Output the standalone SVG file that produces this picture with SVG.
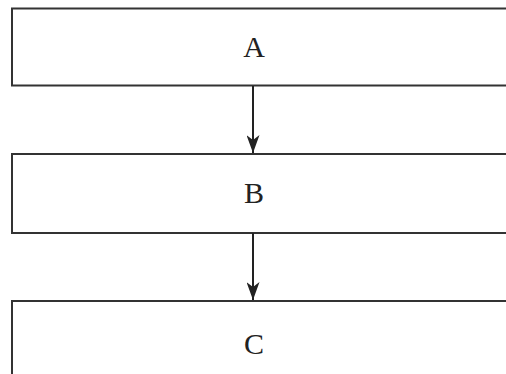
<svg xmlns="http://www.w3.org/2000/svg" width="506" height="374" viewBox="0 0 506 374">
<style>
.box{fill:#fff;stroke:#333;stroke-width:2}
.lbl{font-family:"Liberation Serif",serif;font-size:30px;fill:#222;text-anchor:middle;dominant-baseline:central}
.conn{stroke:#222;stroke-width:2;fill:none}
</style>
<defs>
<marker id="ah" markerUnits="userSpaceOnUse" markerWidth="18" markerHeight="13" refX="18" refY="6.5" orient="auto" viewBox="0 0 18 13">
<path d="M0,0 L18,6.5 L0,13 L5,6.5 Z" fill="#222"/>
</marker>
</defs>
<rect width="506" height="374" fill="#fff"/>
<g id="nodeA"><rect class="box" x="12" y="8.5" width="510" height="77"/><text class="lbl" x="254" y="46">A</text></g>
<g id="nodeB"><rect class="box" x="12" y="154" width="510" height="79"/><text class="lbl" x="254" y="192">B</text></g>
<g id="nodeC"><rect class="box" x="12" y="301" width="510" height="90"/><text class="lbl" x="254" y="343">C</text></g>
<g id="connectors">
<line class="conn" x1="253" y1="86" x2="253" y2="153" marker-end="url(#ah)"/>
<line class="conn" x1="253" y1="233" x2="253" y2="300" marker-end="url(#ah)"/>
</g>
</svg>
